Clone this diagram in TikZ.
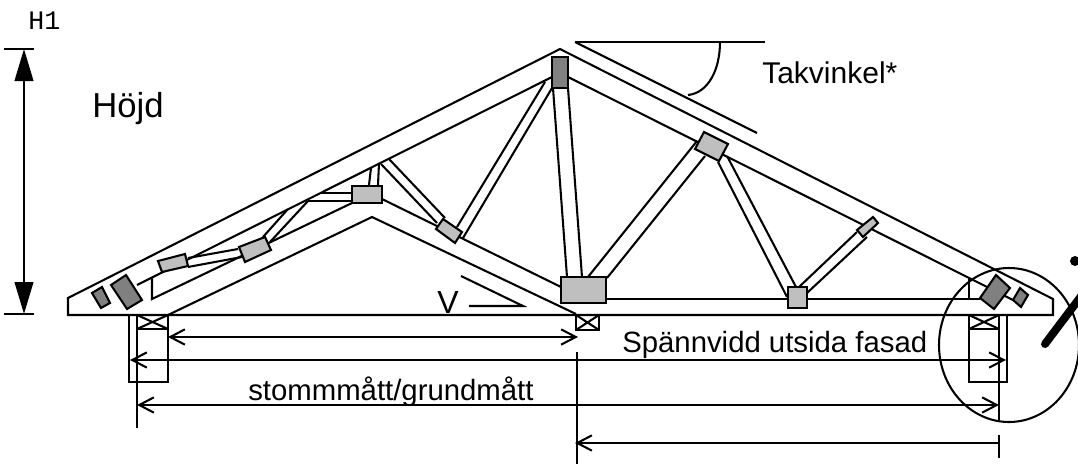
\documentclass[tikz,border=0pt]{standalone}
\usepackage{fontspec}
\setmainfont{Liberation Sans}
\newfontfamily\monof{Liberation Mono}
\usetikzlibrary{arrows.meta}
\tikzset{
 ln/.style={line width=1.55pt,line cap=butt,line join=miter},
 dark/.style={ln,fill=black!50,draw=black},
 light/.style={ln,fill=black!25,draw=black},
 dim/.style={ln,{Straight Barb[length=11pt,width=11.5pt,line width=1.55pt]}-{Straight Barb[length=11pt,width=11.5pt,line width=1.55pt]}},
 dimleft/.style={ln,{Straight Barb[length=11pt,width=11.5pt,line width=1.55pt]}-},
 lab/.style={font=\fontsize{22pt}{24pt}\selectfont,inner sep=0pt,text=black,anchor=base west},
 big/.style={font=\fontsize{26pt}{28pt}\selectfont,inner sep=0pt,text=black,anchor=base west},
}
\begin{document}
\begin{tikzpicture}[x=0.75pt,y=-0.75pt]
\useasboundingbox (0,0) rectangle (1078,464);
\clip (0,0) rectangle (1078,464);
% named points
\coordinate (tipL) at (68,298); \coordinate (botL) at (68,315);
\coordinate (apex) at (560,49);
\coordinate (tipR) at (1053,299); \coordinate (botR) at (1053,315);
% outer outline
\draw[ln] (botL) -- (tipL) -- (apex) -- (tipR) -- (botR) -- cycle;
% inner chords
\draw[ln] (137,285) -- (552,77);
\draw[ln] (568,77) -- (1013,300);
\draw[ln] (152,277) -- (152,299) -- (352,203);
\draw[ln] (382,199) -- (561,287);
\draw[ln] (168,315) -- (372,217) -- (576,314);
\draw[ln] (606,299) -- (980,299);
\draw[ln] (969,277) -- (969,299);
% webs
\draw[ln] (553,88) -- (567,277);
\draw[ln] (568,88) -- (582,277);
\draw[ln] (588,277) -- (697,141);
\draw[ln] (607,278) -- (705,156);
\draw[ln] (718,162) -- (787,297);
\draw[ln] (727,156) -- (796,287);
\draw[ln] (799,287) -- (857,232);
\draw[ln] (807,293) -- (867,237);
\draw[ln] (545,82) -- (457,227);
\draw[ln] (552,88) -- (463,238);
\draw[ln] (437,223) -- (381,164);
\draw[ln] (445,218) -- (389,159);
\draw[ln] (369,185) -- (371,168);
\draw[ln] (378,185) -- (379,163);
\draw[ln] (320,193) -- (352,193);
\draw[ln] (308,201) -- (352,201);
\draw[ln] (263,237) -- (288,209);
\draw[ln] (270,242) -- (308,201);
\draw[ln] (188,258) -- (238,249);
\draw[ln] (188,267) -- (242,257);
% plates
\draw[dark] (552,57) rectangle (568,88);
\draw[light] (561,277) rectangle (606,303);
\draw[light] (704,132) -- (728,144) -- (719,161) -- (695,149) -- cycle;
\draw[light] (788,287) rectangle (807,308);
\draw[light] (873,217) -- (878,223) -- (863,237) -- (857,230) -- cycle;
\draw[light] (443,219) -- (462,232) -- (455,243) -- (436,229) -- cycle;
\draw[light] (352,186) rectangle (382,203);
\draw[light] (265,237) -- (271,250) -- (245,262) -- (239,247) -- cycle;
\draw[light] (158,261) -- (185,254) -- (188,266) -- (162,272) -- cycle;
\draw[dark] (126,275) -- (142,300) -- (127,309) -- (111,285) -- cycle;
\draw[dark] (102,287) -- (110,303) -- (101,308) -- (92,293) -- cycle;
\draw[dark] (996,275) -- (1010,288) -- (994,309) -- (980,298) -- cycle;
\draw[dark] (1020,288) -- (1028,295) -- (1021,307) -- (1013,300) -- cycle;
% supports
\draw[ln] (129,315) rectangle (168,382);
\draw[ln] (137,315) rectangle (168,329);
\draw[ln] (137,315) -- (168,329) (137,329) -- (168,315);
\draw[ln] (137,329) -- (137,428);
\draw[ln] (576,315) rectangle (599,330);
\draw[ln] (576,315) -- (599,330) (576,330) -- (599,315);
\draw[ln] (969,315) rectangle (1007,382);
\draw[ln] (969,315) rectangle (999,329);
\draw[ln] (969,315) -- (999,329) (969,329) -- (999,315);
\draw[ln] (999,329) -- (999,421);
\draw[ln] (999,435) -- (999,458);
\draw[ln] (577,352) -- (577,464);
% dims
\draw[dim] (168,337) -- (578,337);
\draw[dim] (130,360) -- (1006,360);
\draw[dim] (137,405) -- (999,405);
\draw[dimleft] (575,443) -- (999,443);
% height
\draw[ln] (4,49) -- (34,49);
\draw[ln] (4,314) -- (34,314);
\draw[ln,{Triangle[length=24pt,width=14pt]}-{Triangle[length=24pt,width=14pt]}] (24,49) -- (24,314);
% roof angle
\draw[ln] (575,42) -- (765,42);
\draw[ln] (575,42) -- (757,133);
\draw[ln] (720,42) .. controls (720,70) and (708,93) .. (688,95);
% V mark
\draw[ln] (461,276) -- (523,306) -- (469,306);
% detail circle
\draw[ln] (1009,345) ellipse (70 and 77);
\draw[line width=6pt,line cap=round] (1045,344) -- (1085,291);
\fill (1075,261) circle (5);
% texts
\node[lab,font=\fontsize{22.5pt}{24pt}\selectfont] (t1) at (762,83) {Takvinkel*};
\node[big] (t2) at (92,117) {Höjd};
\node[big,font=\fontsize{24pt}{28pt}\selectfont] (t3) at (437,313) {V};
\node[lab] (t4) at (622,352) {Spännvidd utsida fasad};
\node[lab] (t5) at (248,400) {stommmått/grundmått};
\node[anchor=base west,inner sep=0pt,font=\monof\fontsize{20pt}{22pt}\selectfont] (t6) at (28,29) {H1};
\end{tikzpicture}
\end{document}
